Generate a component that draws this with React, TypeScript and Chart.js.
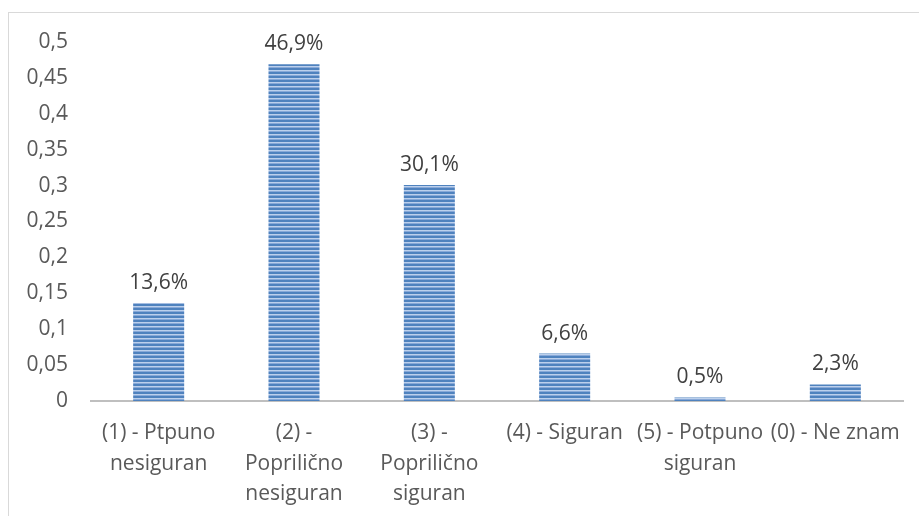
import React, { useEffect, useRef } from "react";
import { Chart, registerables } from "chart.js";

Chart.register(...registerables);

const categories: (string | string[])[] = [
  ["(1) - Ptpuno", "nesiguran"],
  ["(2) -", "Poprili\u010dno", "nesiguran"],
  ["(3) -", "Poprili\u010dno", "siguran"],
  "(4) - Siguran",
  ["(5) - Potpuno", "siguran"],
  "(0) - Ne znam",
];
const values = [0.136, 0.469, 0.301, 0.066, 0.005, 0.023];
const valueLabels = ["13,6%", "46,9%", "30,1%", "6,6%", "0,5%", "2,3%"];

const FONT = "'Open Sans', 'Liberation Sans', sans-serif";

function makePattern(): CanvasPattern | string {
  const c = document.createElement("canvas");
  c.width = 4;
  c.height = 4;
  const ctx = c.getContext("2d");
  if (!ctx) return "#4f81bd";
  ctx.fillStyle = "#4f82be";
  ctx.fillRect(0, 0, 4, 2);
  ctx.fillStyle = "#bcd0ec";
  ctx.fillRect(0, 2, 4, 1);
  ctx.fillStyle = "#88a9d8";
  ctx.fillRect(0, 3, 4, 1);
  const p = ctx.createPattern(c, "repeat");
  return p || "#4f81bd";
}

const borderPlugin = {
  id: "outerBorder",
  beforeDraw(chart: any) {
    const ctx = chart.ctx;
    ctx.save();
    ctx.strokeStyle = "#d9d9d9";
    ctx.lineWidth = 1;
    ctx.strokeRect(8.5, 12.5, 940, 540);
    ctx.restore();
  },
};

const valueLabelPlugin = {
  id: "valueLabels",
  afterDatasetsDraw(chart: any) {
    const ctx = chart.ctx;
    const meta = chart.getDatasetMeta(0);
    ctx.save();
    ctx.font = `21px ${FONT}`;
    ctx.fillStyle = "#404040";
    ctx.textAlign = "center";
    ctx.textBaseline = "alphabetic";
    meta.data.forEach((bar: any, i: number) => {
      ctx.fillText(valueLabels[i], bar.x, bar.y - 14);
    });
    ctx.restore();
  },
};

export default function App() {
  const ref = useRef<HTMLCanvasElement>(null);
  useEffect(() => {
    if (!ref.current) return;
    const chart = new Chart(ref.current, {
      type: "bar",
      data: {
        labels: categories,
        datasets: [
          {
            data: values,
            backgroundColor: makePattern() as any,
            borderWidth: 0,
            barPercentage: 0.377,
            categoryPercentage: 1,
          },
        ],
      },
      options: {
        animation: false,
        responsive: false,
        maintainAspectRatio: false,
        layout: { padding: { left: 0, top: 42, right: 16, bottom: 0 } },
        plugins: { legend: { display: false }, tooltip: { enabled: false } },
        scales: {
          x: {
            grid: { display: false, drawTicks: false },
            border: { display: true, color: "#bfbfbf", width: 2 },
            ticks: {
              color: "#595959",
              font: { family: FONT, size: 21, lineHeight: 1.455 } as any,
              padding: 17,
              maxRotation: 0,
              autoSkip: false,
            },
            afterFit(scale: any) {
              scale.height = 115;
            },
          },
          y: {
            min: 0,
            max: 0.5,
            grid: { display: false, drawTicks: false },
            border: { display: false },
            ticks: {
              stepSize: 0.05,
              color: "#595959",
              font: { family: FONT, size: 21 },
              padding: 23,
              callback: (v: any) =>
                String(Number(Number(v).toFixed(2))).replace(".", ","),
            },
            afterFit(scale: any) {
              scale.width = 91;
            },
          },
        },
      },
      plugins: [borderPlugin, valueLabelPlugin],
    });
    return () => chart.destroy();
  }, []);
  return (
    <div style={{ position: "fixed", left: 0, top: 0, width: 919, height: 516, background: "#fff" }}>
      <canvas ref={ref} width={919} height={516} style={{ display: "block" }} />
    </div>
  );
}
